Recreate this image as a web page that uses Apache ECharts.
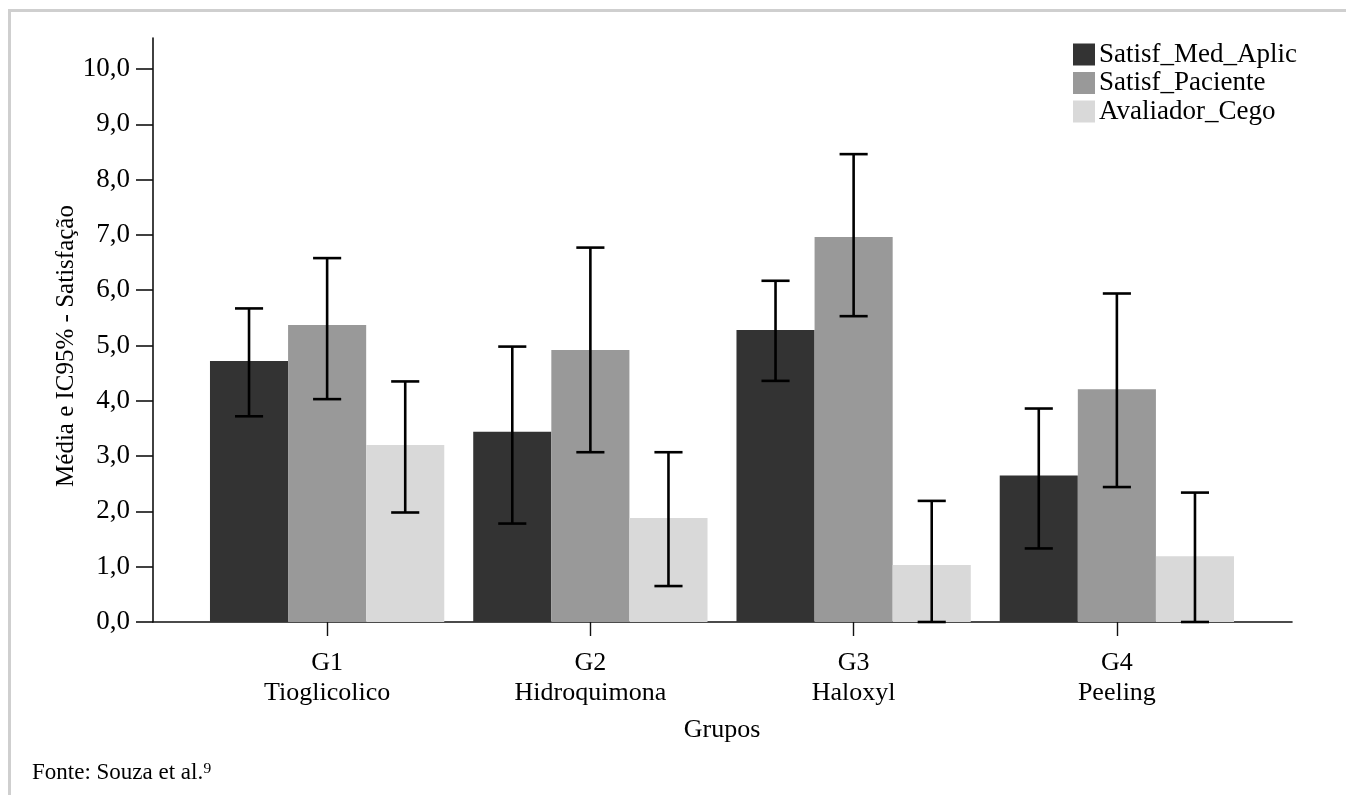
<!DOCTYPE html>
<html>
<head>
<meta charset="utf-8">
<script src="https://cdn.jsdelivr.net/npm/echarts@6/dist/echarts.min.js"></script>
<style>
html,body{margin:0;padding:0;background:#fff;}
#frame{position:absolute;left:8px;top:9px;width:1338px;height:786px;border-left:3px solid #cfcfcf;border-top:3px solid #cfcfcf;box-sizing:border-box;}
#chart{position:absolute;left:0;top:0;width:1346px;height:795px;}
</style>
</head>
<body>
<div id="frame"></div>
<div id="chart"></div>
<script>
const categories = ['G1\nTioglicolico', 'G2\nHidroquimona', 'G3\nHaloxyl', 'G4\nPeeling'];
const seriesNames = ['Satisf_Med_Aplic', 'Satisf_Paciente', 'Avaliador_Cego'];
const medAplicMean = [4.72, 3.44, 5.28, 2.65];
const pacienteMean = [5.37, 4.92, 6.96, 4.21];
const cegoMean = [3.20, 1.88, 1.03, 1.19];
const medAplicLow = [3.72, 1.78, 4.36, 1.33];
const medAplicHigh = [5.67, 4.98, 6.17, 3.86];
const pacienteLow = [4.03, 3.07, 5.53, 2.44];
const pacienteHigh = [6.58, 6.77, 8.46, 5.94];
const cegoLow = [1.98, 0.65, 0.00, 0.00];
const cegoHigh = [4.35, 3.07, 2.19, 2.34];
const yTicks = [0, 1, 2, 3, 4, 5, 6, 7, 8, 9, 10];
const yMax = 10.56;

const colors = ['#333333', '#999999', '#d9d9d9'];
const means = [medAplicMean, pacienteMean, cegoMean];
const lows = [medAplicLow, pacienteLow, cegoLow];
const highs = [medAplicHigh, pacienteHigh, cegoHigh];
const FONT = '"Liberation Serif", "Times New Roman", serif';
const CAT_GAP = 0.11;

const chart = echarts.init(document.getElementById('chart'), null, {renderer: 'canvas'});

const barSeries = seriesNames.map((name, k) => ({
  name: name,
  type: 'bar',
  xAxisIndex: 1,
  yAxisIndex: 1,
  data: means[k],
  barGap: '0%',
  barCategoryGap: (CAT_GAP * 100) + '%',
  itemStyle: {color: colors[k]},
  emphasis: {disabled: true},
  z: 2
}));

const errSeries = seriesNames.map((name, k) => ({
  name: 'err_' + name,
  type: 'custom',
  xAxisIndex: 1,
  yAxisIndex: 1,
  z: 5,
  silent: true,
  data: categories.map((c, i) => [i, lows[k][i], highs[k][i]]),
  renderItem: function (params, api) {
    const i = api.value(0);
    const band = api.size([1, 0])[0];
    const bw = band * (1 - CAT_GAP) / 3;
    const off = (k - 1) * bw;
    const pHi = api.coord([i, api.value(2)]);
    const pLo = api.coord([i, api.value(1)]);
    const x = pHi[0] + off;
    const hw = bw * 0.18;
    const st = {stroke: '#000', lineWidth: 2.6};
    return {
      type: 'group',
      children: [
        {type: 'line', shape: {x1: x, y1: pHi[1], x2: x, y2: pLo[1]}, style: st},
        {type: 'line', shape: {x1: x - hw, y1: pHi[1], x2: x + hw, y2: pHi[1]}, style: st},
        {type: 'line', shape: {x1: x - hw, y1: pLo[1], x2: x + hw, y2: pLo[1]}, style: st}
      ]
    };
  }
}));

const option = {
  backgroundColor: 'transparent',
  animation: false,
  textStyle: {fontFamily: FONT, color: '#000'},
  title: {
    text: 'Fonte: Souza et al.\u2079',
    left: 27,
    top: 756,
    textStyle: {fontFamily: FONT, fontSize: 23, fontWeight: 'normal', color: '#000'}
  },
  legend: {
    data: seriesNames,
    orient: 'vertical',
    left: 1068,
    top: 36,
    itemWidth: 22,
    itemHeight: 22,
    itemGap: 1.5,
    icon: 'rect',
    selectedMode: false,
    textStyle: {fontFamily: FONT, fontSize: 27, color: '#000', lineHeight: 27, padding: [0, 0, 0, -1]}
  },
  grid: [
    {left: 153, right: 54, top: 38, bottom: 173, containLabel: false},
    {left: 195.5, right: 97.5, top: 38, bottom: 173, containLabel: false}
  ],
  xAxis: [
    {
      type: 'value', gridIndex: 0, min: 0, max: 1,
      axisLine: {show: true, onZero: false, lineStyle: {color: '#111', width: 1.6}},
      axisTick: {show: false}, axisLabel: {show: false}, splitLine: {show: false}
    },
    {
      type: 'category', gridIndex: 1, data: categories,
      axisLine: {show: false},
      axisTick: {show: true, alignWithLabel: true, length: 14, lineStyle: {color: '#111', width: 1.4}},
      axisLabel: {fontFamily: FONT, fontSize: 26, color: '#000', lineHeight: 30, margin: 26, interval: 0},
      name: 'Grupos',
      nameLocation: 'middle',
      nameGap: 95,
      nameMoveOverlap: false,
      nameTextStyle: {fontFamily: FONT, fontSize: 26, color: '#000'}
    }
  ],
  yAxis: [
    {
      type: 'value', gridIndex: 0, min: 0, max: yMax,
      axisLine: {show: true, onZero: false, lineStyle: {color: '#111', width: 1.6}},
      axisTick: {show: true, length: 17, customValues: yTicks, lineStyle: {color: '#111', width: 1.6}},
      axisLabel: {
        customValues: yTicks,
        margin: 23, fontFamily: FONT, fontSize: 27, color: '#000',
        formatter: v => v.toFixed(1).replace('.', ',')
      },
      splitLine: {show: false},
      name: 'Média e IC95% - Satisfação',
      nameLocation: 'middle',
      nameGap: 74,
      nameMoveOverlap: false,
      nameTextStyle: {fontFamily: FONT, fontSize: 25, color: '#000', padding: [0, 32, 0, 0]}
    },
    {
      type: 'value', gridIndex: 1, min: 0, max: yMax, show: false,
      splitLine: {show: false}
    }
  ],
  series: barSeries.concat(errSeries)
};

chart.setOption(option);
</script>
</body>
</html>
